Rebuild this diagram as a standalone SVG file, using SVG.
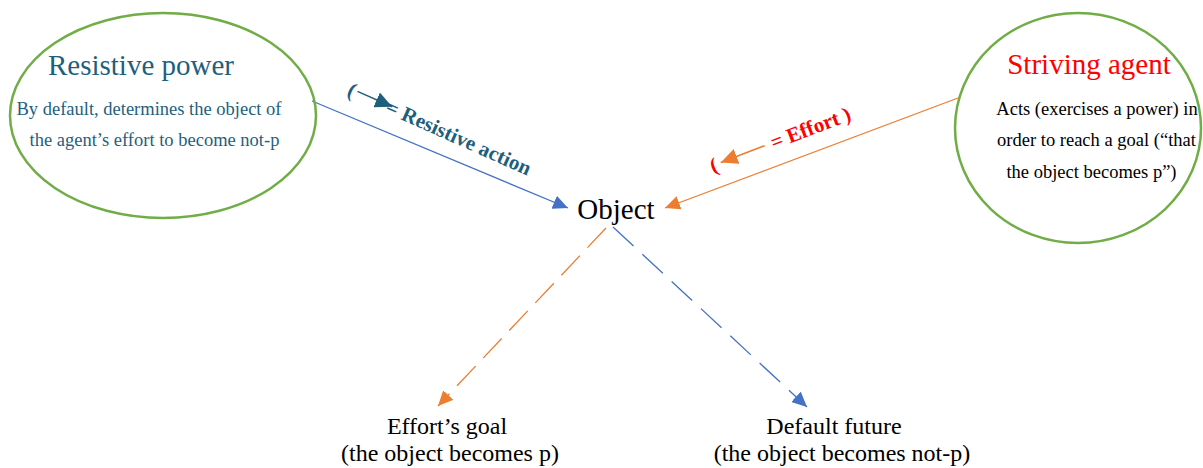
<svg xmlns="http://www.w3.org/2000/svg" width="1203" height="468" viewBox="0 0 1203 468">
<style>
.serif{font-family:"Liberation Serif","Times New Roman",serif;}
.node{fill:none;stroke:#70AD47;stroke-width:2.5;}
.teal{fill:#1F5F7E;}
.blk{fill:#000;}
.red{fill:#FF0000;}
</style>
<defs>
<marker id="ab" markerUnits="userSpaceOnUse" markerWidth="16" markerHeight="14" refX="15" refY="7" orient="auto"><path d="M0,0 L15,7 L0,14 Z" fill="#4472C4"/></marker>
<marker id="ao" markerUnits="userSpaceOnUse" markerWidth="16" markerHeight="14" refX="15" refY="7" orient="auto"><path d="M0,0 L15,7 L0,14 Z" fill="#ED7D31"/></marker>
<marker id="at" markerUnits="userSpaceOnUse" markerWidth="18" markerHeight="16" refX="17" refY="8" orient="auto"><path d="M0,0 L17,8 L0,16 Z" fill="#1F5F7E"/></marker>
<marker id="ao2" markerUnits="userSpaceOnUse" markerWidth="18" markerHeight="16" refX="17" refY="8" orient="auto"><path d="M0,0 L17,8 L0,16 Z" fill="#ED7D31"/></marker>
</defs>
<g id="connectors">
<line x1="312" y1="101" x2="568" y2="208" stroke="#4472C4" stroke-width="1.3" marker-end="url(#ab)"/>
<line x1="958" y1="98" x2="665" y2="208" stroke="#ED7D31" stroke-width="1.3" marker-end="url(#ao)"/>
<line x1="606" y1="228" x2="438" y2="406" stroke="#ED7D31" stroke-width="1.3" stroke-dasharray="27 11" marker-end="url(#ao)"/>
<line x1="613" y1="227" x2="807" y2="407" stroke="#4472C4" stroke-width="1.3" stroke-dasharray="28 12" marker-end="url(#ab)"/>
</g>
<g id="label-resistive" transform="translate(346,95) rotate(24)">
<text x="0" y="0" class="serif teal" font-size="21" font-weight="bold">(</text>
<line x1="9" y1="-8" x2="47" y2="-8" stroke="#1F5F7E" stroke-width="1.5" marker-end="url(#at)"/>
<text x="42" y="0" class="serif teal" font-size="21" font-weight="bold">= Resistive action</text>
</g>
<g id="label-effort" transform="translate(713,173) rotate(-21)">
<text x="0" y="0" class="serif red" font-size="21" font-weight="bold">(</text>
<line x1="58" y1="-7" x2="11" y2="-7" stroke="#ED7D31" stroke-width="1.5" marker-end="url(#ao2)"/>
<text x="65" y="0" class="serif red" font-size="21" font-weight="bold">= Effort )</text>
</g>
<g id="resistive-power">
<ellipse class="node" cx="163" cy="115.5" rx="153" ry="102.5"/>
<text x="141" y="75" class="serif teal" font-size="29" text-anchor="middle">Resistive power</text>
<text x="149" y="115" class="serif teal" font-size="18.5" text-anchor="middle">By default, determines the object of</text>
<text x="154.5" y="146" class="serif teal" font-size="18.5" text-anchor="middle">the agent’s effort to become not-p</text>
</g>
<g id="striving-agent">
<ellipse class="node" cx="1078" cy="128" rx="123" ry="115"/>
<text x="1089" y="74" class="serif red" font-size="29" text-anchor="middle">Striving agent</text>
<text x="1097" y="115" class="serif blk" font-size="18.5" text-anchor="middle">Acts (exercises a power) in</text>
<text x="1096.5" y="146" class="serif blk" font-size="18.5" text-anchor="middle">order to reach a goal (“that</text>
<text x="1091.5" y="178" class="serif blk" font-size="18.5" text-anchor="middle">the object becomes p”)</text>
</g>
<g id="object">
<text x="616" y="219" class="serif blk" font-size="29" text-anchor="middle">Object</text>
</g>
<g id="efforts-goal">
<text x="447" y="434" class="serif blk" font-size="24" text-anchor="middle">Effort’s goal</text>
<text x="450" y="461" class="serif blk" font-size="24" text-anchor="middle">(the object becomes p)</text>
</g>
<g id="default-future">
<text x="834" y="434" class="serif blk" font-size="24" text-anchor="middle">Default future</text>
<text x="842" y="461" class="serif blk" font-size="24" text-anchor="middle">(the object becomes not-p)</text>
</g>
</svg>
